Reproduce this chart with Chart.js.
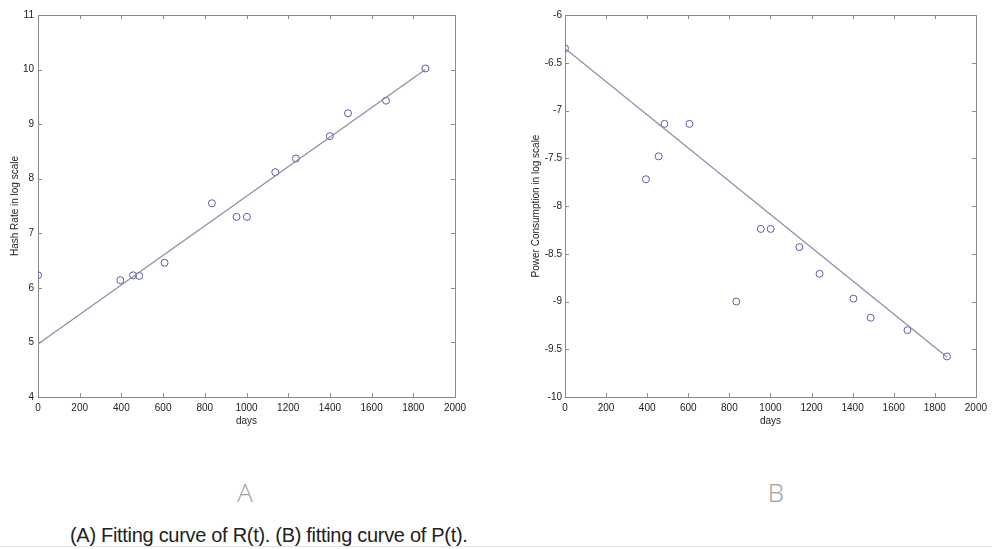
<!DOCTYPE html>
<html>
<head>
<meta charset="utf-8">
<script src="https://cdn.jsdelivr.net/npm/chart.js@4/dist/chart.umd.min.js"></script>
<style>
  html, body { margin: 0; padding: 0; background: #fff; }
  #page { position: relative; width: 992px; height: 549px; overflow: hidden; }
  .box { position: absolute; top: 0; height: 440px; }
  #boxA { left: 0; width: 480px; }
  #boxB { left: 500px; width: 492px; }
  .panel { position: absolute; top: 474px; font: 300 26px "Open Sans", "Liberation Sans", sans-serif; color: #a0a0a0; transform: translateX(-50%); }
  #caption { position: absolute; left: 70px; top: 524px; font: 20px "Liberation Sans Narrow", "Liberation Sans", sans-serif; color: #222; letter-spacing: -0.3px; }
  #rule { position: absolute; left: 0; right: 0; top: 546px; height: 1px; background: #e2e2e2; }
</style>
</head>
<body>
<div id="page">
  <div class="box" id="boxA"><canvas id="chartA"></canvas></div>
  <div class="box" id="boxB"><canvas id="chartB"></canvas></div>
  <div class="panel" style="left:245px">A</div>
  <div class="panel" style="left:776px">B</div>
  <div id="caption">(A) Fitting curve of R(t). (B) fitting curve of P(t).</div>
  <div id="rule"></div>
</div>
<script>
// (A) hash rate, log scale
const hashDays = [0, 395, 456, 485, 607, 834, 952, 1002, 1138, 1237, 1400, 1487, 1669, 1858];
const hashLog = [6.23, 6.14, 6.23, 6.22, 6.46, 7.55, 7.30, 7.30, 8.12, 8.37, 8.78, 9.20, 9.43, 10.02];
const hashFitDays = [0, 1858];
const hashFit = [4.97, 10.0];

// (B) power consumption, log scale
const powerDays = [0, 394, 456, 484, 606, 834, 953, 1001, 1141, 1239, 1404, 1488, 1667, 1859];
const powerLog = [-6.35, -7.72, -7.48, -7.14, -7.14, -9.00, -8.24, -8.24, -8.43, -8.71, -8.97, -9.17, -9.30, -9.575];
const powerFitDays = [0, 1859];
const powerFit = [-6.35, -9.58];

const MARK = '#5b5ba6';
const FIT = '#8d8dab';
const FONT = '"Liberation Sans", Arial, sans-serif';

// matlab-like frame with inward ticks on all four sides
const matlabBox = {
  id: 'matlabBox',
  beforeDatasetsDraw(chart) {
    const { ctx, chartArea: a, scales: { x, y } } = chart;
    ctx.save();
    ctx.strokeStyle = '#8a8a8a';
    ctx.lineWidth = 1;
    ctx.strokeRect(Math.round(a.left) + 0.5, Math.round(a.top) + 0.5, Math.round(a.width), Math.round(a.height));
    ctx.beginPath();
    x.ticks.forEach(t => {
      const px = Math.round(x.getPixelForValue(t.value)) + 0.5;
      ctx.moveTo(px, a.bottom); ctx.lineTo(px, a.bottom - 4);
      ctx.moveTo(px, a.top); ctx.lineTo(px, a.top + 4);
    });
    y.ticks.forEach(t => {
      const py = Math.round(y.getPixelForValue(t.value)) + 0.5;
      ctx.moveTo(a.left, py); ctx.lineTo(a.left + 4, py);
      ctx.moveTo(a.right, py); ctx.lineTo(a.right - 4, py);
    });
    ctx.stroke();
    ctx.restore();
  },
};

function makeChart(id, cfg) {
  const pts = cfg.days.map((d, i) => ({ x: d, y: cfg.vals[i] }));
  const fit = cfg.fitDays.map((d, i) => ({ x: d, y: cfg.fit[i] }));
  const tickFont = { family: FONT, size: 10 };
  return new Chart(document.getElementById(id), {
    type: 'scatter',
    data: {
      datasets: [
        {
          type: 'line',
          data: fit,
          borderColor: FIT,
          borderWidth: 1.3,
          pointRadius: 0,
          fill: false,
        },
        {
          data: pts,
          borderColor: MARK,
          backgroundColor: 'rgba(0,0,0,0)',
          borderWidth: 1,
          pointStyle: 'circle',
          pointRadius: 3.5,
        },
      ],
    },
    options: {
      responsive: true,
      maintainAspectRatio: false,
      animation: false,
      layout: { padding: cfg.pad },
      plugins: { legend: { display: false }, tooltip: { enabled: false } },
      scales: {
        x: {
          type: 'linear', min: 0, max: 2000,
          grid: { display: false, drawTicks: false }, border: { display: false },
          ticks: { stepSize: 200, padding: 5, color: '#222', font: tickFont, maxRotation: 0, callback: v => String(v) },
          title: { display: true, text: 'days', color: '#222', font: { family: FONT, size: 10 }, padding: { top: 0, bottom: 13 } },
          afterFit: s => { s.height = 43; },
        },
        y: {
          min: cfg.ymin, max: cfg.ymax,
          grid: { display: false, drawTicks: false }, border: { display: false },
          ticks: { stepSize: cfg.ystep, padding: cfg.tickPad, color: '#222', font: tickFont, callback: v => String(v) },
          title: { display: true, text: cfg.ylabel, color: '#222', font: { family: FONT, size: 10 }, padding: cfg.titlePad },
          afterFit: s => { s.width = cfg.yw; },
        },
      },
    },
    plugins: [matlabBox],
  });
}

makeChart('chartA', {
  days: hashDays, vals: hashLog, fitDays: hashFitDays, fit: hashFit,
  ymin: 4, ymax: 11, ystep: 1, ylabel: 'Hash Rate in log scale',
  pad: { left: 8, top: 15, right: 25, bottom: 0 }, yw: 30, tickPad: 4, titlePad: 1,
});

makeChart('chartB', {
  days: powerDays, vals: powerLog, fitDays: powerFitDays, fit: powerFit,
  ymin: -10, ymax: -6, ystep: 0.5, ylabel: 'Power Consumption in log scale',
  pad: { left: 28, top: 15, right: 12, bottom: 0 }, yw: 37, tickPad: 3, titlePad: 2,
});
</script>
</body>
</html>
